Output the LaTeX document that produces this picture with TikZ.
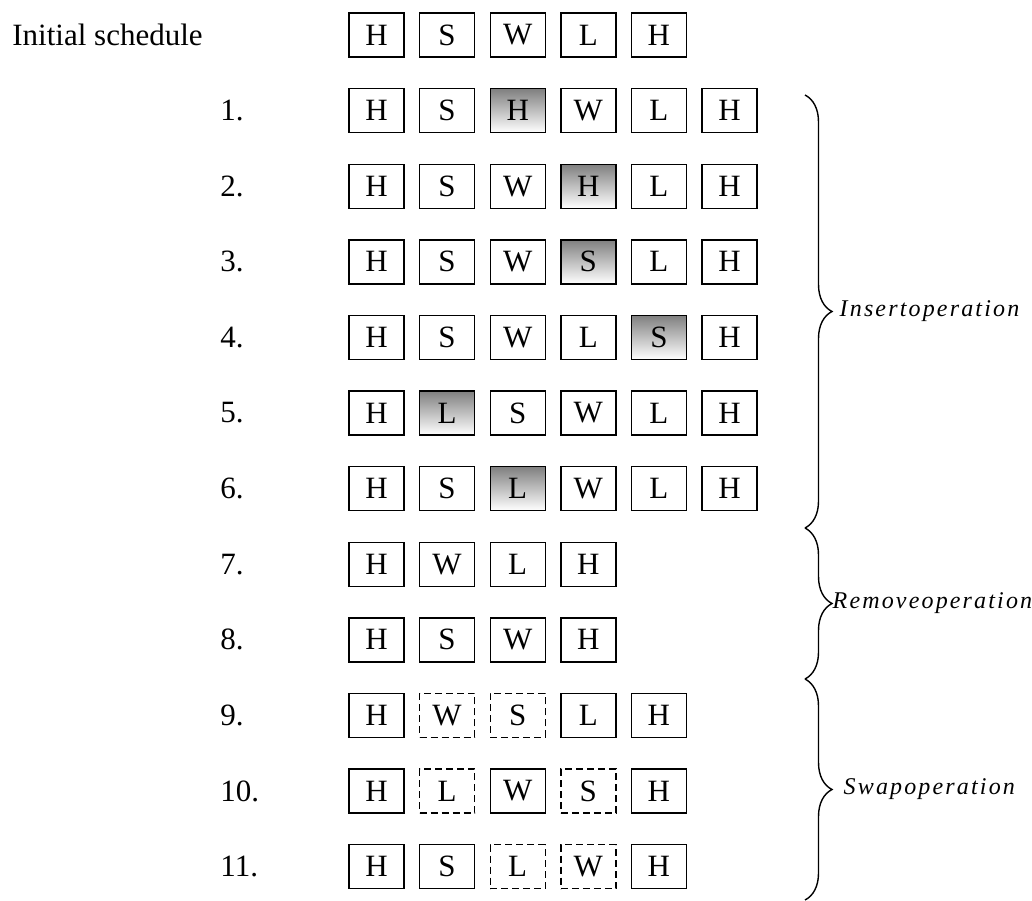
\documentclass[tikz,border=0pt]{standalone}
\usepackage{fontspec}
\setmainfont{Liberation Serif}
\newfontfamily\opfont[LetterSpace=9]{Liberation Serif}
\usetikzlibrary{decorations.pathreplacing}

\begin{document}
\begin{tikzpicture}[
      x=0.5pt, y=-0.5pt,
      celln/.style={draw, line width=0.7pt, minimum width=27.5pt, minimum height=22pt,
        inner sep=0pt, font=\fontsize{15.5}{18}\selectfont},
      cellg/.style={celln, top color=black!50, bottom color=white},
      celld/.style={celln, dash pattern=on 3.5pt off 2pt},
      rowlabel/.style={anchor=west, inner sep=0pt, font=\fontsize{15.5}{18}\selectfont},
      opbrace/.style={decorate, decoration={brace, amplitude=13.5pt}, line width=0.7pt},
      oplabel/.style={anchor=west, inner sep=0pt, font=\opfont\itshape\fontsize{12}{14}\selectfont}
    ]
    \useasboundingbox (0,0) rectangle (1032,900);
    % Row labels
    \node[rowlabel] (lab0) at (12,35) {Initial schedule};
    \foreach \r in {1,...,11}{
      \node[rowlabel] (lab\r) at (220,{35+75.6*\r}) {\r.};
    }
    % Schedules: n = plain, g = inserted (shaded), d = swapped (dashed)
    \foreach \r/\seq in {
        0/{H/n,S/n,W/n,L/n,H/n},
        1/{H/n,S/n,H/g,W/n,L/n,H/n},
        2/{H/n,S/n,W/n,H/g,L/n,H/n},
        3/{H/n,S/n,W/n,S/g,L/n,H/n},
        4/{H/n,S/n,W/n,L/n,S/g,H/n},
        5/{H/n,L/g,S/n,W/n,L/n,H/n},
        6/{H/n,S/n,L/g,W/n,L/n,H/n},
        7/{H/n,W/n,L/n,H/n},
        8/{H/n,S/n,W/n,H/n},
        9/{H/n,W/d,S/d,L/n,H/n},
        10/{H/n,L/d,W/n,S/d,H/n},
        11/{H/n,S/n,L/d,W/d,H/n}}{
      \foreach \c/\t [count=\k] in \seq{
        \node[cell\t] (c\r-\k) at ({376.5+70.6*(\k-1)},{35+75.6*\r}) {\c};
      }
    }
    % Operation braces
    \coordinate (ins-a) at (805,95);
    \coordinate (ins-b) at (805,528);
    \coordinate (rem-b) at (805,679);
    \coordinate (swp-b) at (805,900);
    \draw[opbrace] (ins-a) -- node[oplabel, xshift=17pt] (insop) {Insertoperation} (ins-b);
    \draw[opbrace] (ins-b) -- node[oplabel, xshift=13.5pt] (remop) {Removeoperation} (rem-b);
    \draw[opbrace] (rem-b) -- node[oplabel, xshift=19pt] (swpop) {Swapoperation} (swp-b);
  \end{tikzpicture}
\end{document}
